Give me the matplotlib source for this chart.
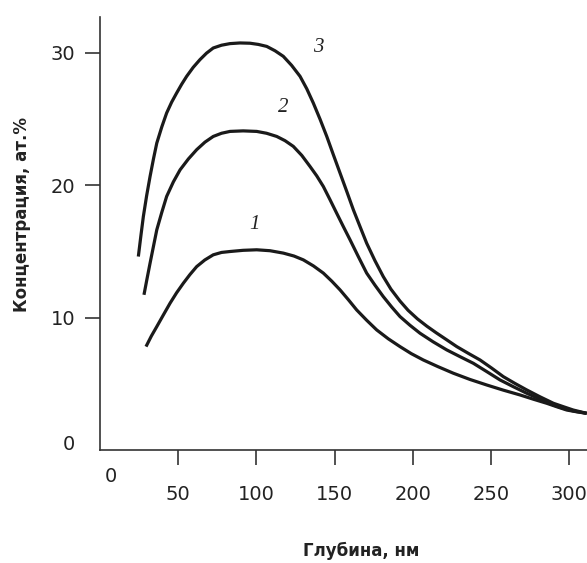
import matplotlib
matplotlib.use('Agg')
from matplotlib import pyplot as plt, rcParams

rcParams['font.family'] = ['DejaVu Sans']

# глубина, нм / концентрация, ат.%
depth_1 = [29.4, 32.8, 36.3, 40.5, 44.8, 49.0, 53.3, 57.5, 61.8, 67.0, 72.4, 77.7, 83.1, 91.5, 100.2, 108.7, 117.2, 124.0, 130.0, 136.5, 142.8, 148.2, 153.5, 158.8, 164.1, 170.5, 176.9, 184.3, 191.8, 199.0, 206.7, 216.0, 225.9, 236.5, 247.3, 257.9, 268.5, 277.0, 285.6, 292.0, 298.4, 305.0, 311.2]
conc_1 = [7.81, 8.6, 9.32, 10.2, 11.09, 11.88, 12.6, 13.25, 13.85, 14.35, 14.74, 14.92, 14.99, 15.08, 15.12, 15.05, 14.87, 14.65, 14.36, 13.9, 13.36, 12.75, 12.09, 11.35, 10.58, 9.8, 9.07, 8.4, 7.81, 7.28, 6.8, 6.3, 5.8, 5.33, 4.91, 4.52, 4.16, 3.84, 3.53, 3.27, 3.02, 2.88, 2.77]

depth_2 = [28.1, 30.0, 32.0, 34.2, 36.3, 39.5, 42.6, 46.9, 51.2, 56.5, 61.8, 67.1, 72.4, 77.7, 83.1, 91.5, 100.2, 106.5, 113.0, 118.3, 123.6, 129.0, 134.3, 138.6, 142.8, 147.0, 151.3, 155.6, 159.9, 165.2, 170.5, 175.8, 181.1, 186.5, 191.8, 198.2, 204.6, 213.0, 221.7, 230.2, 238.7, 247.3, 255.8, 264.3, 272.8, 281.3, 289.9, 296.0, 302.6, 311.2]
conc_2 = [11.72, 12.9, 14.11, 15.4, 16.63, 17.95, 19.15, 20.25, 21.16, 21.98, 22.68, 23.25, 23.68, 23.92, 24.06, 24.1, 24.06, 23.92, 23.68, 23.36, 22.93, 22.25, 21.41, 20.7, 19.9, 18.92, 17.89, 16.87, 15.87, 14.6, 13.36, 12.45, 11.59, 10.8, 10.08, 9.42, 8.82, 8.17, 7.56, 7.05, 6.55, 5.92, 5.29, 4.78, 4.29, 3.84, 3.40, 3.15, 2.95, 2.77]

depth_3 = [24.5, 26.1, 27.7, 29.8, 32.0, 34.2, 36.3, 39.5, 42.6, 45.8, 49.0, 52.2, 55.4, 59.6, 63.9, 68.1, 72.4, 77.7, 83.1, 89.5, 95.9, 101.2, 106.6, 111.9, 117.2, 122.5, 127.9, 132.2, 136.4, 140.7, 145.0, 149.2, 153.5, 157.8, 162.0, 166.3, 170.5, 175.8, 181.1, 186.0, 191.8, 197.0, 203.0, 209.0, 215.0, 221.7, 228.1, 235.5, 243.0, 250.5, 257.9, 265.3, 272.8, 281.3, 289.9, 296.3, 302.6, 311.2]
conc_3 = [14.61, 16.15, 17.63, 19.2, 20.66, 22.0, 23.18, 24.4, 25.45, 26.27, 26.96, 27.62, 28.22, 28.9, 29.48, 29.97, 30.36, 30.57, 30.69, 30.74, 30.72, 30.63, 30.48, 30.15, 29.73, 29.05, 28.22, 27.28, 26.2, 24.98, 23.68, 22.3, 20.91, 19.52, 18.14, 16.86, 15.62, 14.3, 13.1, 12.15, 11.25, 10.55, 9.9, 9.35, 8.85, 8.32, 7.81, 7.3, 6.8, 6.18, 5.54, 5.03, 4.54, 4.02, 3.53, 3.27, 3.02, 2.77]

x_ticks = [50, 100, 150, 200, 250, 300]
y_ticks = [10, 20, 30]

curve_labels = ['1', '2', '3']
label_x = [98.5, 117.2, 139.6]
label_y = [17.05, 25.83, 30.36]

fig = plt.figure(figsize=(5.87, 5.63), dpi=100)
ax = fig.add_axes([0.1704, 0.2007, 0.8296, 0.7691])

line_color = '#1a1a1a'
for d, c in [(depth_1, conc_1), (depth_2, conc_2), (depth_3, conc_3)]:
    ax.plot(d, c, color=line_color, linewidth=2.3, solid_capstyle='butt',
            solid_joinstyle='round', clip_on=False)

for t, lx, ly in zip(curve_labels, label_x, label_y):
    ax.text(lx, ly, t, fontsize=15, family='Liberation Serif', style='italic',
            color='#222222', ha='center', va='center')

ax.set_xlim(0, 311.4)
ax.set_ylim(0, 32.7)
ax.spines['top'].set_visible(False)
ax.spines['right'].set_visible(False)
for s in ['left', 'bottom']:
    ax.spines[s].set_linewidth(1.2)
    ax.spines[s].set_color('#333333')

ax.set_xticks(x_ticks)
ax.set_yticks(y_ticks)
ax.tick_params(axis='both', direction='out', length=11, width=1.2, color='#333333',
               labelsize=14, labelcolor='#222222')
ax.tick_params(axis='x', pad=14)
ax.tick_params(axis='y', pad=7)

# нули на осях
fig.text(69 / 587, 1 - 444 / 563, '0', fontsize=14, color='#222222', ha='center', va='center')
fig.text(111 / 587, 1 - 477 / 563, '0', fontsize=14, color='#222222', ha='center', va='center')

fig.text(22 / 587, 1 - 215 / 563, 'Концентрация, ат.%', fontsize=12, fontweight='bold',
         rotation=90, ha='center', va='center', color='#222222')
fig.text(361 / 587, 1 - 551 / 563, 'Глубина, нм', fontsize=12, fontweight='bold',
         ha='center', va='center', color='#222222')

plt.savefig('out.png', dpi=100)
